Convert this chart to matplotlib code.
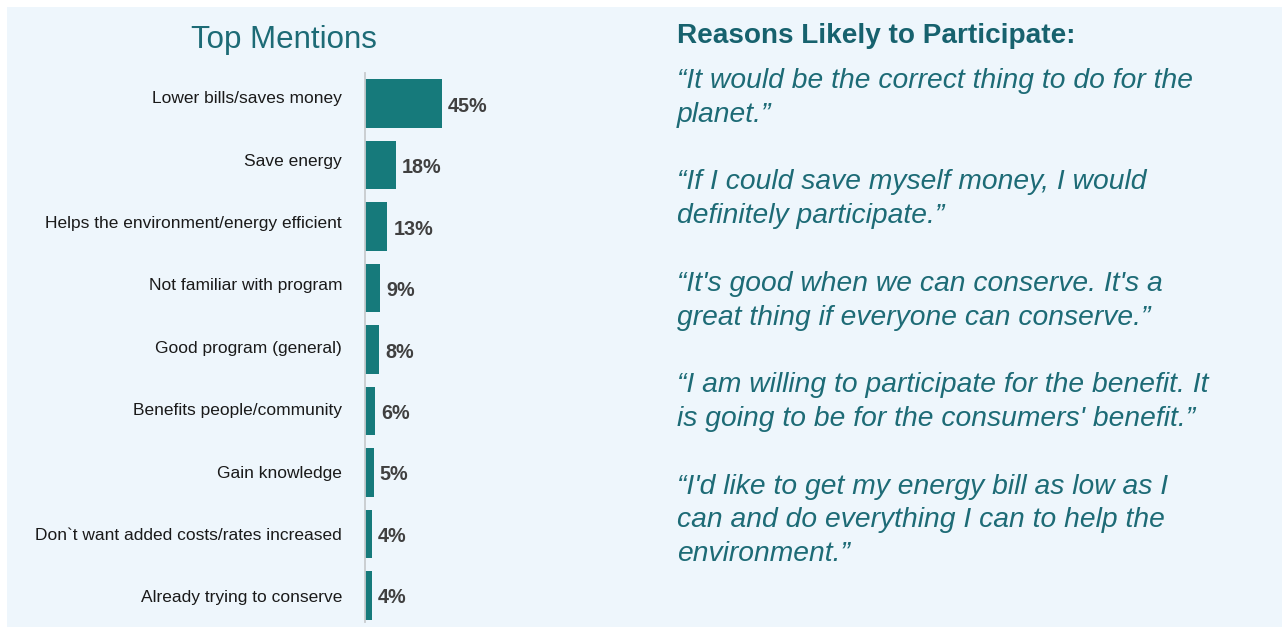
import matplotlib
matplotlib.use("Agg")
import matplotlib.pyplot as plt
from matplotlib.patches import Rectangle
import matplotlib.transforms as mtransforms

categories = [
    "Lower bills/saves money",
    "Save energy",
    "Helps the environment/energy efficient",
    "Not familiar with program",
    "Good program (general)",
    "Benefits people/community",
    "Gain knowledge",
    "Don`t want added costs/rates increased",
    "Already trying to conserve",
]
values = [45, 18, 13, 9, 8, 6, 5, 4, 4]
value_labels = ["45%", "18%", "13%", "9%", "8%", "6%", "5%", "4%", "4%"]

chart_title = "Top Mentions"
quotes_title = "Reasons Likely to Participate:"
quotes = [
    "\u201cIt would be the correct thing to do for the\nplanet.\u201d",
    "\u201cIf I could save myself money, I would\ndefinitely participate.\u201d",
    "\u201cIt's good when we can conserve. It's a\ngreat thing if everyone can conserve.\u201d",
    "\u201cI am willing to participate for the benefit. It\nis going to be for the consumers' benefit.\u201d",
    "\u201cI'd like to get my energy bill as low as I\ncan and do everything I can to help the\nenvironment.\u201d",
]

W, H = 1282, 627
FONT = "Liberation Sans"
BG = "#eef6fc"
BAR = "#167a7b"
TEAL = "#1d6b76"

fig = plt.figure(figsize=(W / 100, H / 100), dpi=100)
fig.patch.set_facecolor("white")

def fx(px):
    return px / W

def fy(py):
    return 1 - py / H

fig.patches.append(Rectangle((fx(7), 0), 1 - fx(7), fy(7), transform=fig.transFigure,
                             facecolor=BG, edgecolor="none", zorder=-10))

# Bar chart axes
ax_left, ax_right = 365, 665
ax_top, ax_bot = 73, 626
ax = fig.add_axes([fx(ax_left), fy(ax_bot), fx(ax_right - ax_left), fy(ax_top) - fy(ax_bot)])
ax.set_facecolor("none")
px_per_unit = 77 / 45.0
ax.set_xlim(0, (ax_right - ax_left) / px_per_unit)
n = len(categories)
ax.set_ylim(n - 0.5, -0.5)
ypos = list(range(n))
ax.barh(ypos, values, height=0.79, color=BAR, edgecolor="none")

for s in ["top", "right", "bottom"]:
    ax.spines[s].set_visible(False)
ax.spines["left"].set_color("#c8cbce")
ax.spines["left"].set_linewidth(1.3)
ax.spines["left"].set_bounds(-0.5, n - 0.565)
ax.set_xticks([])
ax.set_yticks(ypos)
ax.set_yticklabels(categories, fontsize=12.5, color="#1a1a1a", family=FONT)
ax.tick_params(axis="y", length=0, pad=16.5)
for i, lab in enumerate(ax.get_yticklabels()):
    shift_px = 6.5 - i * 0.95
    offset = mtransforms.ScaledTranslation(0, shift_px / 100, fig.dpi_scale_trans)
    lab.set_transform(lab.get_transform() + offset)

for y, v, lab in zip(ypos, values, value_labels):
    ax.annotate(lab, (v, y), xytext=(4.5, -1.8), textcoords="offset points",
                va="center", ha="left", fontsize=14.2, fontweight="bold",
                color="#404040", family=FONT)

# Title
fig.text(fx(283.5), fy(48), chart_title, ha="center", va="baseline",
         fontsize=22.5, color=TEAL, family=FONT)

# Quotes
fig.text(fx(677), fy(43), quotes_title, ha="left", va="baseline",
         fontsize=20.1, fontweight="bold", color="#17626e", family=FONT)

line_px = 33.8
start = 88
cur = start
for q in quotes:
    lines = q.split("\n")
    for j, ln in enumerate(lines):
        fig.text(fx(677), fy(cur + j * line_px), ln, ha="left", va="baseline",
                 fontsize=20.3, style="italic", color=TEAL, family=FONT)
    cur += (len(lines) + 1) * line_px

fig.savefig("out.png", dpi=100, facecolor=fig.get_facecolor())
